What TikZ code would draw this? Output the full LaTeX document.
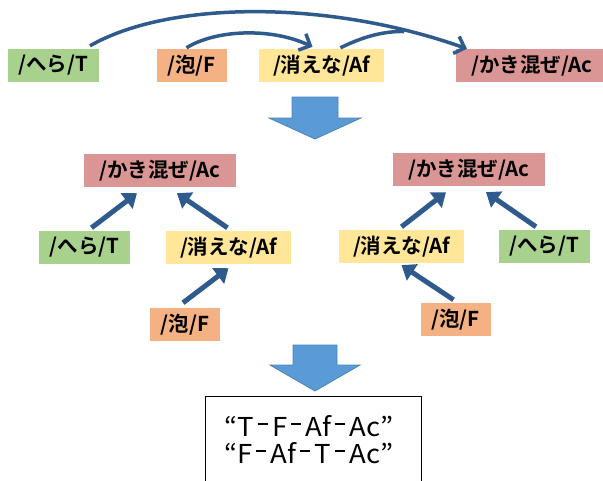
\documentclass[tikz,border=0pt]{standalone}
\usepackage{fontspec}
\newfontfamily\jpfont{Noto Sans CJK JP}[BoldFont={Noto Sans CJK JP Bold}]
\newfontfamily\orderfont{Noto Sans CJK JP}[FakeStretch=1.06]
\usetikzlibrary{arrows.meta}
\definecolor{boxT}{HTML}{A9D18E}
\definecolor{boxF}{HTML}{F4B183}
\definecolor{boxAf}{HTML}{FFE699}
\definecolor{boxAc}{HTML}{D99694}
\definecolor{link}{HTML}{2F5A8E}
\definecolor{bigarrow}{HTML}{5B9BD5}
\definecolor{bigarrowline}{HTML}{4A84BC}
% short separator dash between the tags of an order
\newcommand\ordsep{\hspace{4pt}\rule[11.5pt]{10pt}{1.5pt}\hspace{4.5pt}}

\begin{document}
\begin{tikzpicture}[x=1pt,y=-1pt,
  tag/.style={minimum height=33pt, inner sep=0pt,
    font=\jpfont\bfseries\fontsize{20.5pt}{24pt}\selectfont},
  tagT/.style={tag, fill=boxT, minimum width=91pt},
  tagF/.style={tag, fill=boxF, minimum width=70pt},
  tagAf/.style={tag, fill=boxAf, minimum width=125pt},
  tagAc/.style={tag, fill=boxAc, minimum width=152pt},
  curvelink/.style={draw=link, line width=3.5pt,
    -{Straight Barb[length=9pt,width=18pt,line width=3.5pt]}},
  treelink/.style={draw=link, line width=5pt,
    -{Triangle[length=13pt,width=19pt]}},
  blockarrow/.style={fill=bigarrow, draw=bigarrowline, line width=0.8pt},
  ordertext/.style={anchor=base west, inner sep=0pt,
    font=\orderfont\fontsize{26pt}{27pt}\selectfont},
]
\useasboundingbox (0,0) rectangle (603,480);
\clip (0,0) rectangle (603,480);

% ---- top row: the words in sentence order ----
\node[tagT]  (tT)  at (53,65.5)    {/へら/T};
\node[tagF]  (tF)  at (191.5,65.5) {/泡/F};
\node[tagAf] (tAf) at (321.5,65.5) {/消えな/Af};
\node[tagAc] (tAc) at (532,65.5)   {/かき混ぜ/Ac};

\coordinate (merge) at (404,31.5);
\draw[curvelink] ([xshift=37pt,yshift=3pt]tT.north)
  .. controls (170,0) and (330,0) .. ([xshift=-65pt,yshift=0pt]tAc.north);
\draw[curvelink] ([xshift=-5pt,yshift=1pt]tF.north)
  .. controls (215,30) and (270,27) .. ([xshift=-9pt,yshift=2pt]tAf.north);
\draw[draw=link, line width=3.5pt] ([xshift=19pt,yshift=1pt]tAf.north)
  .. controls (360,38) and (382,31) .. (merge);

% ---- block arrows ----
\filldraw[blockarrow] (292,97) -- (338,97) -- (338,118) -- (361,118)
  -- (315,139) -- (269,118) -- (292,118) -- cycle;
\filldraw[blockarrow] (293,345) -- (337,345) -- (337,365) -- (360,365)
  -- (315,391) -- (270,365) -- (293,365) -- cycle;

% ---- left tree ----
\node[tagAc] (lAc) at (160,170.5)   {/かき混ぜ/Ac};
\node[tagT]  (lT)  at (84.5,247.5)  {/へら/T};
\node[tagAf] (lAf) at (228.5,247.5) {/消えな/Af};
\node[tagF]  (lF)  at (185,324.5)   {/泡/F};

\draw[treelink] ([xshift=7pt,yshift=3pt]lT.north)  -- ([xshift=-23pt,yshift=-6pt]lAc.south);
\draw[treelink] ([xshift=-1pt,yshift=3pt]lAf.north) -- ([xshift=17pt,yshift=-6pt]lAc.south);
\draw[treelink] ([xshift=-2pt,yshift=5pt]lF.north)  -- ([xshift=0pt,yshift=-4pt]lAf.south);

% ---- right tree ----
\node[tagAc] (rAc) at (469,169.5)   {/かき混ぜ/Ac};
\node[tagAf] (rAf) at (401.5,246.5) {/消えな/Af};
\node[tagT]  (rT)  at (544,246.5)   {/へら/T};
\node[tagF]  (rF)  at (455.5,319.5) {/泡/F};

\draw[treelink] ([xshift=0pt,yshift=3pt]rAf.north) -- ([xshift=-23pt,yshift=-6pt]rAc.south);
\draw[treelink] ([xshift=-8pt,yshift=3pt]rT.north)  -- ([xshift=17pt,yshift=-6pt]rAc.south);
\draw[treelink] ([xshift=-2pt,yshift=3pt]rF.north)  -- ([xshift=0pt,yshift=-2pt]rAf.south);

% ---- resulting orders ----
\node[draw=black, line width=1pt, minimum width=216pt, minimum height=100pt,
  anchor=north west, inner sep=0pt] (result) at (205,396) {};
\node[ordertext] (order1) at (224,436) {“T\ordsep F\ordsep Af\ordsep Ac”};
\node[ordertext] (order2) at (224,463) {“F\ordsep Af\ordsep T\ordsep Ac”};
\end{tikzpicture}
\end{document}
